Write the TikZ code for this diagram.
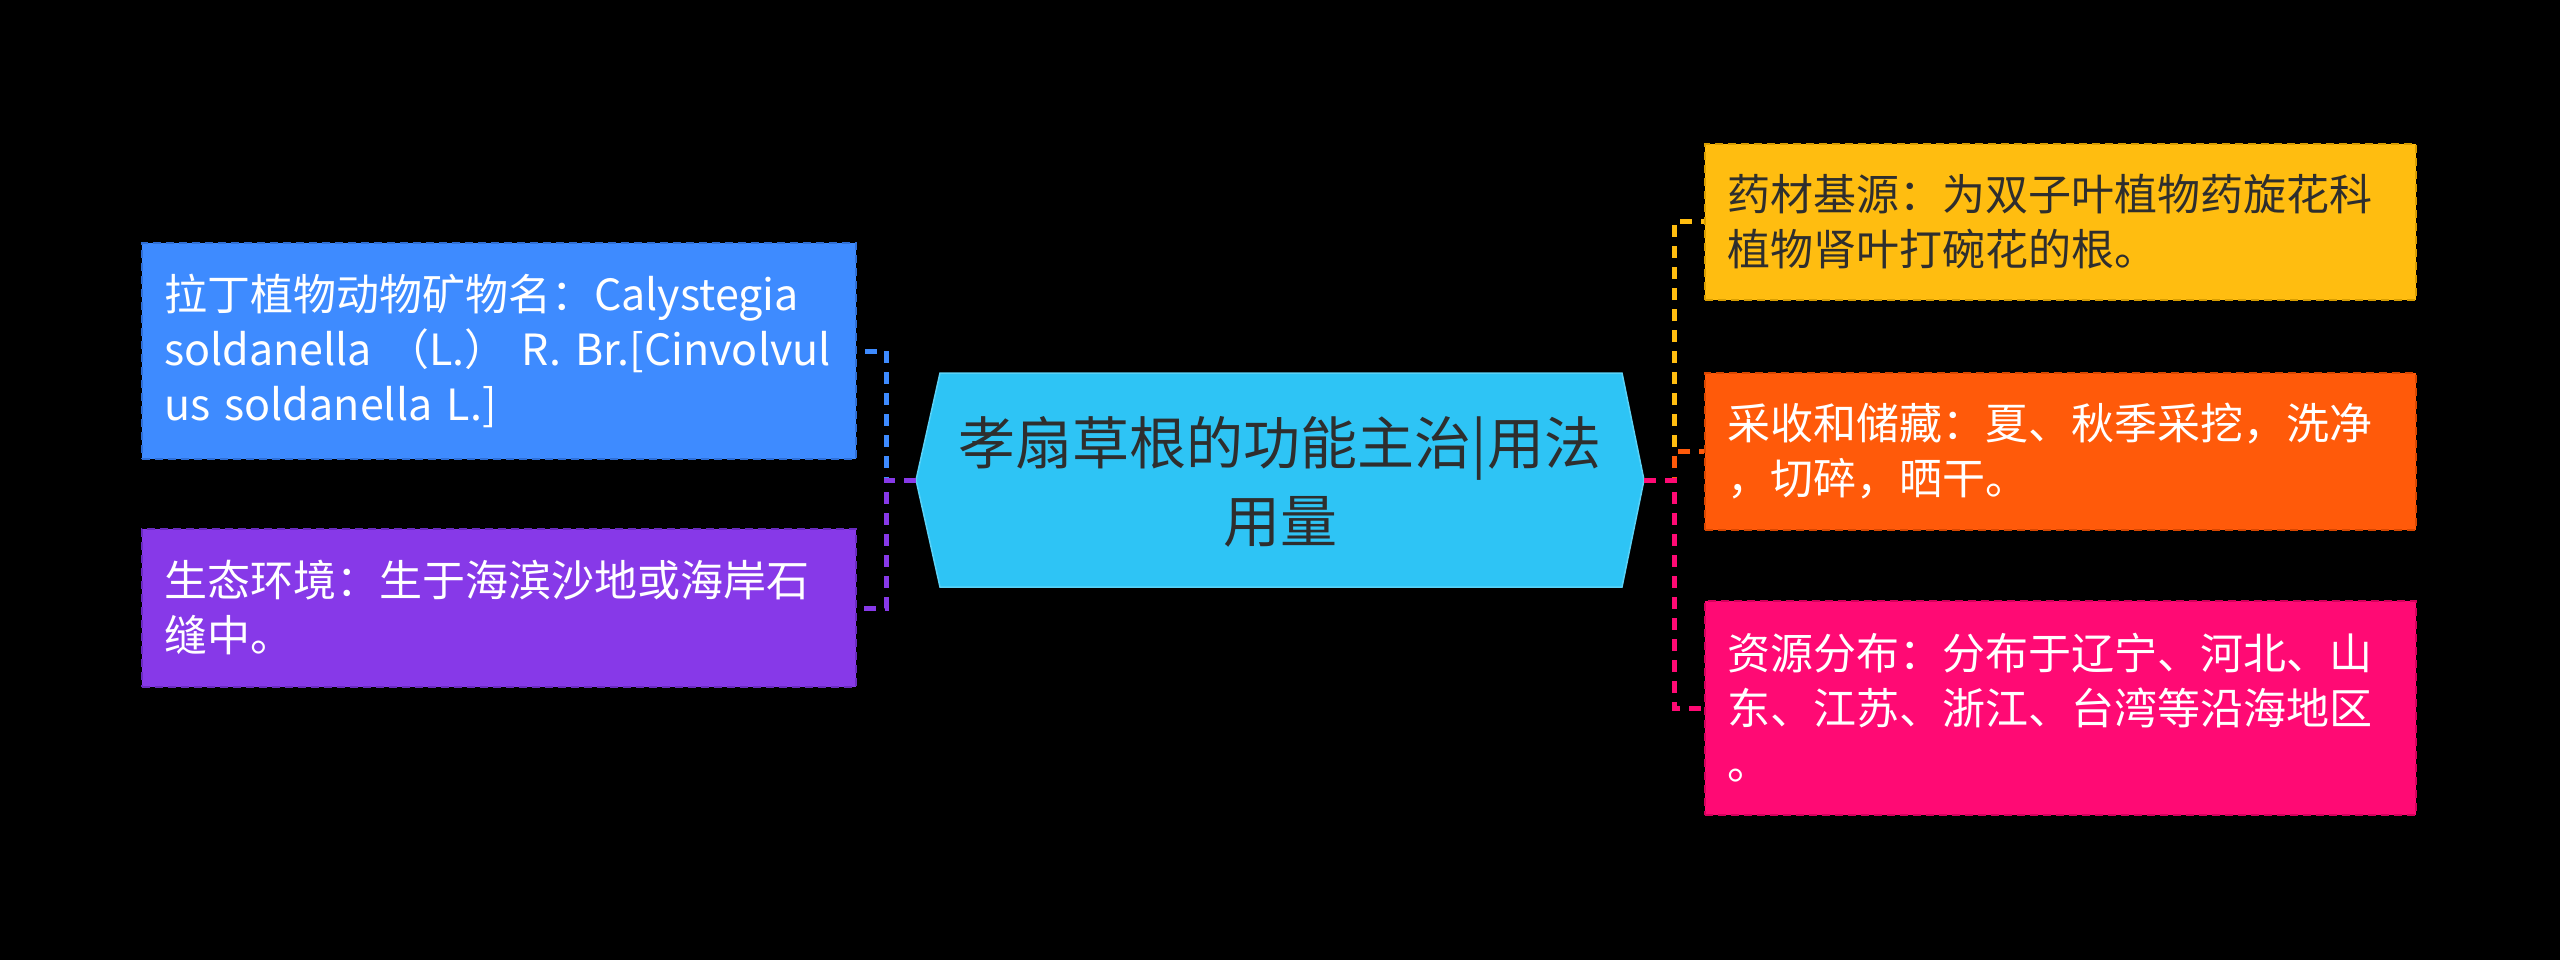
\documentclass[tikz,border=0pt]{standalone}
\usepackage{fontspec}
\newfontfamily\cjk{Noto Sans CJK SC}
\definecolor{cblue}{HTML}{3E8BFF}
\definecolor{cblueD}{HTML}{2F6FD6}
\definecolor{cpurple}{HTML}{8739E8}
\definecolor{cpurpleD}{HTML}{6A2BC0}
\definecolor{cyellow}{HTML}{FFBD10}
\definecolor{cyellowD}{HTML}{D99E00}
\definecolor{corange}{HTML}{FF5A0A}
\definecolor{corangeD}{HTML}{D94700}
\definecolor{cpink}{HTML}{FF0A74}
\definecolor{cpinkD}{HTML}{D4005C}
\definecolor{ccenter}{HTML}{2EC4F5}
\definecolor{ccenterD}{HTML}{5AD2F7}
\definecolor{cdark}{HTML}{2E2E2E}
\begin{document}
\begin{tikzpicture}[x=1pt,y=-1pt,
  leaf/.style={rectangle, inner xsep=22pt, inner ysep=0pt, align=left,
    line width=2pt, dash pattern=on 8pt off 5pt,
    font=\cjk\fontsize{43}{55}\selectfont},
  conn/.style={line width=5pt, dash pattern=on 12pt off 9pt},
  ctext/.style={align=center, text=cdark, font=\cjk\fontsize{57}{78}\selectfont}
]
\fill[black] (0,0) rectangle (2560,960);
\useasboundingbox (0,0) rectangle (2560,960);

% central shape
\coordinate (cL) at (916,480);
\coordinate (cR) at (1644,480);
\fill[ccenter, draw=ccenterD, line width=1.5pt]
  (940,373) -- (1622,373) -- (cR) -- (1622,587) -- (940,587) -- (cL) -- cycle;
\node[ctext] (center) at (1280,482) {孝扇草根的功能主治|用法\\用量};

% left leaves
\node[leaf, fill=cblue, draw=cblueD, text=white, text width=670pt,
  minimum width=714pt, minimum height=216pt] (blue) at (499,351)
  {拉丁植物动物矿物名：Calystegia\\\mbox{soldanella （L.） R. Br.[Cinvolvul}\\us soldanella L.]};
\node[leaf, fill=cpurple, draw=cpurpleD, text=white, text width=670pt,
  minimum width=714pt, minimum height=158pt] (purple) at (499,608)
  {生态环境：生于海滨沙地或海岸石\\缝中。};

% right leaves
\node[leaf, fill=cyellow, draw=cyellowD, text=cdark, text width=667pt,
  minimum width=711pt, minimum height=156pt] (yellow) at (2060.5,222)
  {药材基源：为双子叶植物药旋花科\\植物肾叶打碗花的根。};
\node[leaf, fill=corange, draw=corangeD, text=white, text width=667pt,
  minimum width=711pt, minimum height=157pt] (orange) at (2060.5,451)
  {采收和储藏：夏、秋季采挖，洗净\\，切碎，晒干。};
\node[leaf, fill=cpink, draw=cpinkD, text=white, text width=667pt,
  minimum width=711pt, minimum height=214pt] (pink) at (2060.5,708)
  {资源分布：分布于辽宁、河北、山\\东、江苏、浙江、台湾等沿海地区\\。};

% connectors
\draw[conn, cblue] (cL) -- ++(-30,0) |- (blue.east);
\draw[conn, cpurple] (cL) -- ++(-30,0) |- (purple.east);
\draw[conn, cyellow] (cR) -- ++(30,0) |- (yellow.west);
\draw[conn, corange] (cR) -- ++(30,0) |- (orange.west);
\draw[conn, cpink] (cR) -- ++(30,0) |- (pink.west);
\end{tikzpicture}
\end{document}
